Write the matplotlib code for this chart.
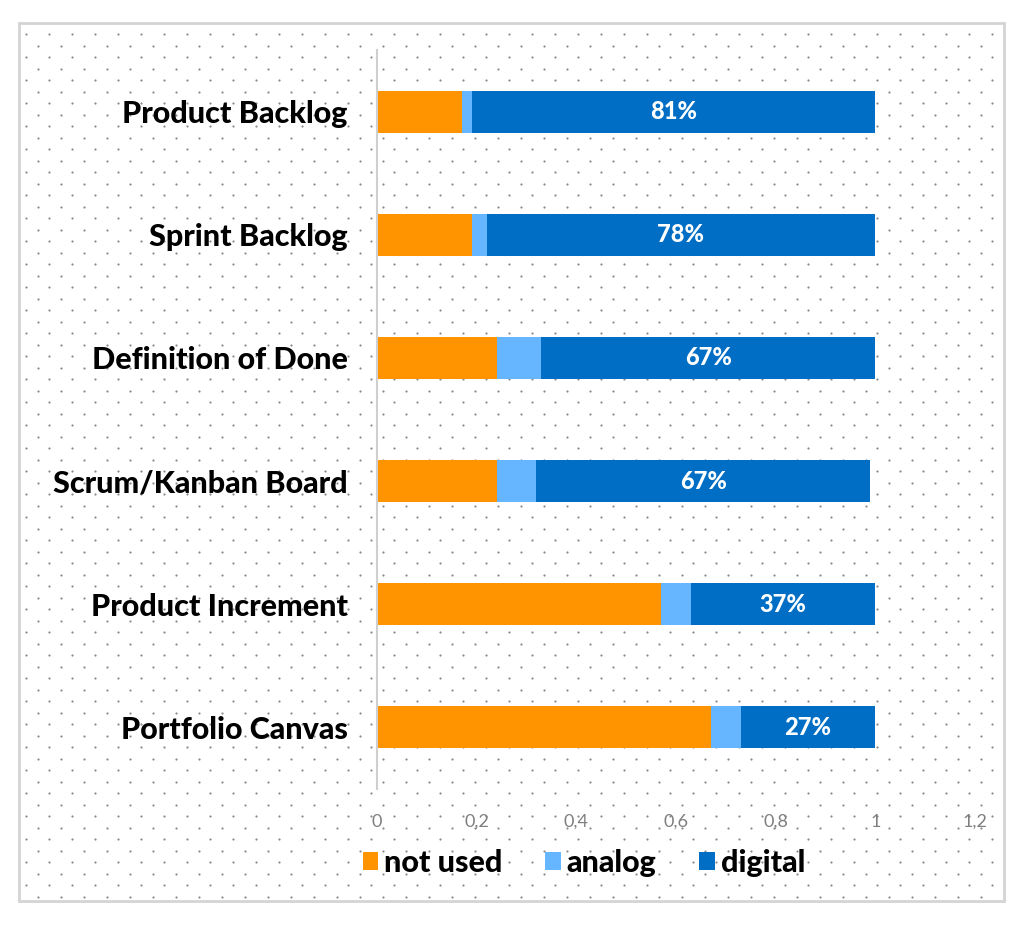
import numpy as np
import matplotlib
matplotlib.use('Agg')
import matplotlib.pyplot as plt
from matplotlib.patches import Rectangle

# datos
categorias = ['Product Backlog', 'Sprint Backlog', 'Definition of Done',
              'Scrum/Kanban Board', 'Product Increment', 'Portfolio Canvas']
not_used = [0.17, 0.19, 0.24, 0.24, 0.57, 0.67]
analog = [0.02, 0.03, 0.09, 0.08, 0.06, 0.06]
digital = [0.81, 0.78, 0.67, 0.67, 0.37, 0.27]
xticks = [0, 0.2, 0.4, 0.6, 0.8, 1, 1.2]

col_not = '#FF9300'
col_ana = '#66B6FF'
col_dig = '#006EC4'

plt.rcParams['font.family'] = ['Lato', 'DejaVu Sans']

fig = plt.figure(figsize=(10.24, 9.26), dpi=100)

# fondo punteado y marco
bg = fig.add_axes([0, 0, 1, 1])
bg.set_xlim(0, 1024)
bg.set_ylim(926, 0)
bg.axis('off')
px, py = [], []
fila = 0
for yy in np.arange(34, 900, 11.5):
    off = 0 if fila % 2 == 0 else 11.5
    for xx in np.arange(26 + off, 1000, 23):
        px.append(xx)
        py.append(yy)
    fila += 1
bg.scatter(px, py, s=2.5, color='#8a8a8a', linewidths=0)
bg.add_patch(Rectangle((19, 23), 985, 878, fill=False, edgecolor='#d4d4d4', lw=2))

ax = fig.add_axes([377 / 1024, 1 - 789 / 926, (975 - 377) / 1024, (789 - 50) / 926])
ax.patch.set_alpha(0)

y = np.arange(len(categorias))
alto = 0.34
left2 = [a + b for a, b in zip(not_used, analog)]
ax.barh(y, not_used, height=alto, color=col_not, label='not used')
ax.barh(y, analog, left=not_used, height=alto, color=col_ana, label='analog')
ax.barh(y, digital, left=left2, height=alto, color=col_dig, label='digital')

for i in range(len(categorias)):
    ax.text(left2[i] + digital[i] / 2, y[i], f'{round(digital[i] * 100)}%',
            ha='center', va='center', color='white', fontsize=17, fontweight='black')

ax.set_xlim(0, 1.2)
ax.set_ylim(len(categorias) - 0.5, -0.5)
ax.set_yticks(y)
ax.set_yticklabels(categorias, fontsize=22, fontweight='black', color='black')
ax.set_xticks(xticks)
ax.set_xticklabels([str(t).replace('.', ',') for t in xticks], fontsize=13, color='#7f7f7f')
ax.tick_params(axis='both', length=0)
ax.tick_params(axis='y', pad=21)
ax.tick_params(axis='x', pad=18)
for s in ['top', 'right', 'bottom']:
    ax.spines[s].set_visible(False)
ax.spines['left'].set_color('#cfcfcf')
ax.spines['left'].set_linewidth(1.5)

leg = fig.legend(loc='center', bbox_to_anchor=(584 / 1024, 1 - 863 / 926), ncol=3,
                 frameon=False, prop={'size': 22, 'weight': 'black'},
                 handlelength=0.5, handleheight=0.5, handletextpad=0.2, columnspacing=1.4)

fig.savefig('out.png', dpi=100)
